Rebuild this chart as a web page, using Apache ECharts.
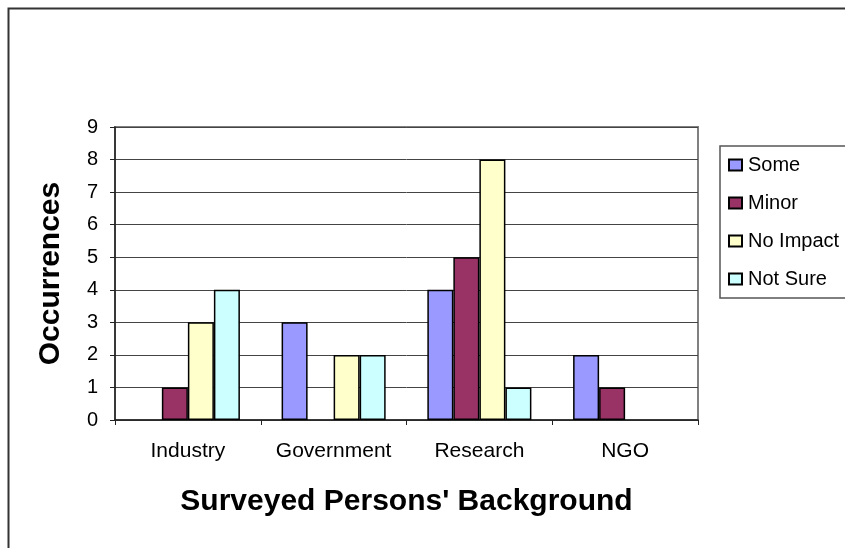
<!DOCTYPE html>
<html>
<head>
<meta charset="utf-8">
<script src="https://cdn.jsdelivr.net/npm/echarts@6/dist/echarts.min.js"></script>
<style>html,body{margin:0;padding:0;background:#fff}#c{width:845px;height:548px}</style>
</head>
<body>
<div id="c"></div>
<script>
const categories = ['Industry', 'Government', 'Research', 'NGO'];
const seriesNames = ['Some', 'Minor', 'No Impact', 'Not Sure'];
const some = [0, 3, 4, 2];
const minor = [1, 0, 5, 1];
const noImpact = [3, 2, 8, 0];
const notSure = [4, 2, 1, 0];
const yTicks = [0, 1, 2, 3, 4, 5, 6, 7, 8, 9];
const colors = ['#9999FF', '#993366', '#FFFFCC', '#CCFFFF'];

const values = [some, minor, noImpact, notSure];
const font = 'Liberation Sans, Arial, sans-serif';
const chart = echarts.init(document.getElementById('c'), null, {renderer: 'canvas'});
chart.setOption({
  animation: false,
  backgroundColor: '#fff',
  textStyle: {fontFamily: font},
  graphic: [{
    type: 'rect', left: 6, top: 6, silent: true, z: 100,
    shape: {x: 0, y: 0, width: 900, height: 600},
    style: {fill: 'none', stroke: '#333', lineWidth: 2}
  }],
  grid: {
    left: 115, right: 147, top: 127, bottom: 128,
    show: true, borderColor: '#808080', borderWidth: 2, backgroundColor: '#fff'
  },
  legend: {
    orient: 'vertical', left: 720, top: 146,
    padding: [9, 60, 9, 8],
    itemGap: 18, itemWidth: 13, itemHeight: 11,
    icon: 'rect',
    borderColor: '#555', borderWidth: 1.5,
    textStyle: {fontSize: 20, color: '#000', fontFamily: font, lineHeight: 20, padding: [0, 0, 0, 1]},
    data: seriesNames
  },
  xAxis: {
    type: 'category', data: categories,
    name: "Surveyed Persons' Background", nameLocation: 'middle', nameGap: 67,
    nameTextStyle: {fontSize: 30, fontWeight: 'bold', color: '#000', fontFamily: font},
    axisLine: {lineStyle: {color: '#222', width: 1.5}},
    axisTick: {show: true, length: 5, interval: 0, lineStyle: {color: '#222'}},
    axisLabel: {fontSize: 21, color: '#000', margin: 21, interval: 0, fontFamily: font}
  },
  yAxis: {
    type: 'value', min: 0, max: 9, interval: 1,
    name: 'Occurrences', nameLocation: 'middle', nameGap: 49,
    nameTextStyle: {fontSize: 30, fontWeight: 'bold', color: '#000', fontFamily: font},
    axisLine: {show: true, lineStyle: {color: '#222', width: 1.5}},
    axisTick: {show: true, length: 5, lineStyle: {color: '#222'}},
    axisLabel: {fontSize: 20, color: '#000', margin: 17, fontFamily: font,
      formatter: v => yTicks.includes(v) ? String(v) : ''},
    splitLine: {show: true, lineStyle: {color: '#444', width: 1}}
  },
  series: seriesNames.map((n, i) => ({
    name: n, type: 'bar',
    data: values[i].map(v => v === 0 ? '-' : v),
    barGap: '0%', barCategoryGap: '28.6%',
    itemStyle: {color: colors[i], borderColor: '#000', borderWidth: 1.5}
  }))
});
</script>
</body>
</html>
